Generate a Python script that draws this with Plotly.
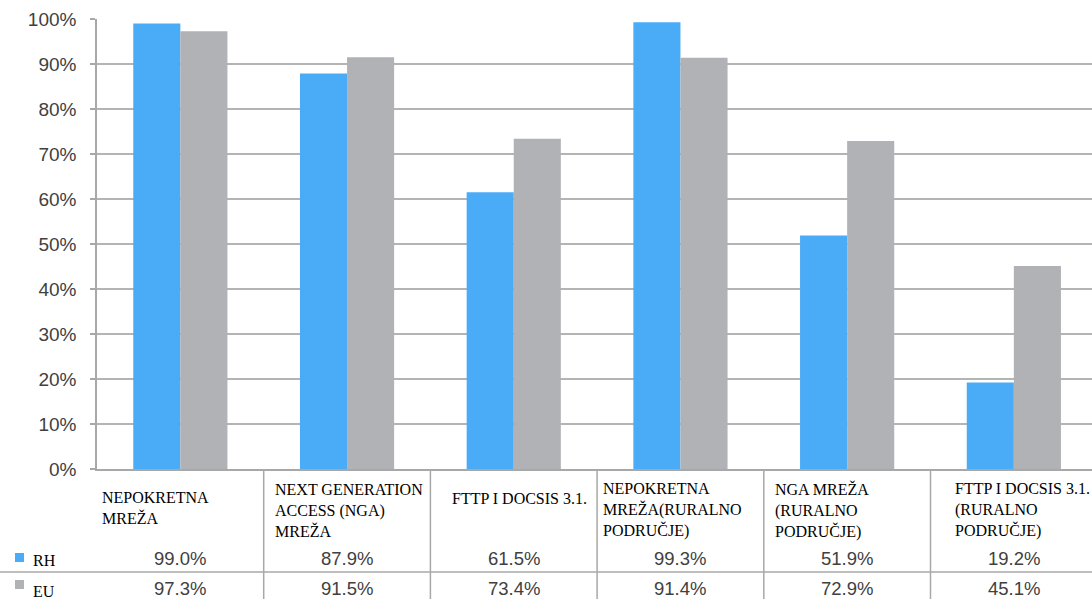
import plotly.graph_objects as go

categories = ["NEPOKRETNA<br>MREŽA",
              "NEXT GENERATION<br>ACCESS (NGA)<br>MREŽA",
              "FTTP I DOCSIS 3.1.",
              "NEPOKRETNA<br>MREŽA(RURALNO<br>PODRUČJE)",
              "NGA MREŽA<br>(RURALNO<br>PODRUČJE)",
              "FTTP I DOCSIS 3.1.<br>(RURALNO<br>PODRUČJE)"]
rh = [99.0, 87.9, 61.5, 99.3, 51.9, 19.2]
eu = [97.3, 91.5, 73.4, 91.4, 72.9, 45.1]
series_names = ["RH", "EU"]
y_ticks = [0, 10, 20, 30, 40, 50, 60, 70, 80, 90, 100]

BLUE = "#4AABF7"
GRAY = "#B1B2B6"
W, H = 1092, 599
L, T, B = 97, 19, 130
PH = H - T - B
CW = 166.7
n = len(categories)
xr = [-0.5, -0.5 + (W - L) / CW]

def px2x(px):
    return (px - L) / CW - 0.5

def py2p(py):
    return (H - B - py) / PH

idx = list(range(n))
fig = go.Figure()
fig.add_bar(x=idx, y=rh, name=series_names[0], marker=dict(color=BLUE, line=dict(width=0)))
fig.add_bar(x=idx, y=eu, name=series_names[1], marker=dict(color=GRAY, line=dict(width=0)))

shapes = []
ann = []
# table vertical lines
for i in range(n - 1):
    shapes.append(dict(type="line", xref="x", yref="paper", x0=i + 0.5, x1=i + 0.5,
                       y0=0, y1=py2p(H), line=dict(color="#a8a8a8", width=1.5)))
# horizontal separator
shapes.append(dict(type="line", xref="paper", yref="paper", x0=-L / (W - L), x1=1,
                   y0=py2p(572), y1=py2p(572), line=dict(color="#a8a8a8", width=1.5)))
# legend squares
shapes.append(dict(type="rect", xref="paper", yref="paper",
                   x0=(15 - L) / (W - L), x1=(24 - L) / (W - L),
                   y0=py2p(562), y1=py2p(553), fillcolor=BLUE, line=dict(width=0)))
shapes.append(dict(type="rect", xref="paper", yref="paper",
                   x0=(15 - L) / (W - L), x1=(24 - L) / (W - L),
                   y0=py2p(589), y1=py2p(580), fillcolor=GRAY, line=dict(width=0)))

serif = dict(family="Liberation Serif", size=16, color="#000000")
sans = dict(family="Liberation Sans", size=18.5, color="#404040")

label_left = [100, 273, 450, 601, 773, 953]
label_center = [508, 510, 498, 510, 510, 510]
for i, c in enumerate(categories):
    ann.append(dict(text=c, xref="x", yref="paper", x=px2x(label_left[i]), y=py2p(label_center[i]),
                    xanchor="left", yanchor="middle", align="left", showarrow=False, font=serif))
for i in range(n):
    ann.append(dict(text=f"{rh[i]:.1f}%", xref="x", yref="paper", x=i, y=py2p(558),
                    xanchor="center", yanchor="middle", showarrow=False, font=sans))
    ann.append(dict(text=f"{eu[i]:.1f}%", xref="x", yref="paper", x=i, y=py2p(588),
                    xanchor="center", yanchor="middle", showarrow=False, font=sans))
ann.append(dict(text=series_names[0], xref="paper", yref="paper", x=(31 - L) / (W - L), y=py2p(560),
                xanchor="left", yanchor="middle", showarrow=False, font=serif))
ann.append(dict(text=series_names[1], xref="paper", yref="paper", x=(31 - L) / (W - L), y=py2p(591),
                xanchor="left", yanchor="middle", showarrow=False, font=serif))

fig.update_layout(
    width=W, height=H,
    margin=dict(l=L, r=0, t=T, b=B, pad=0),
    paper_bgcolor="white", plot_bgcolor="white",
    barmode="group", bargap=0.435, bargroupgap=0,
    showlegend=False,
    shapes=shapes, annotations=ann,
    xaxis=dict(range=xr, showticklabels=False, showgrid=False, zeroline=False,
               showline=True, linecolor="#a8a8a8", linewidth=1.5, ticks=""),
    yaxis=dict(range=[0, 100], tickvals=y_ticks, ticktext=[f"{v}%" for v in y_ticks],
               showgrid=True, gridcolor="#b4b4b4", gridwidth=1.5, zeroline=False,
               showline=True, linecolor="#a8a8a8", linewidth=1.5,
               ticks="outside", ticklen=5, tickcolor="#a8a8a8", tickwidth=1.5,
               tickfont=dict(family="Liberation Sans", size=19, color="#404040"),
               ticklabelstandoff=10),
)
fig.write_html("out.html")
